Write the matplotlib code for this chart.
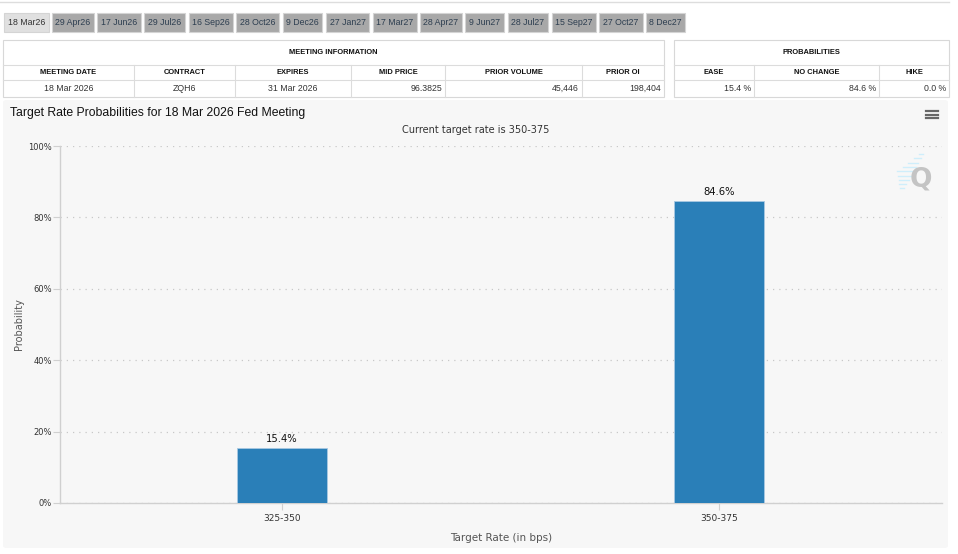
import matplotlib
matplotlib.use("Agg")
import matplotlib.pyplot as plt
from matplotlib.patches import Rectangle, FancyBboxPatch
from matplotlib.lines import Line2D

# ---------------- data ----------------
tabs = ["18 Mar26", "29 Apr26", "17 Jun26", "29 Jul26", "16 Sep26", "28 Oct26", "9 Dec26",
        "27 Jan27", "17 Mar27", "28 Apr27", "9 Jun27", "28 Jul27", "15 Sep27", "27 Oct27", "8 Dec27"]
meeting_cols = ["MEETING DATE", "CONTRACT", "EXPIRES", "MID PRICE", "PRIOR VOLUME", "PRIOR OI"]
meeting_vals = ["18 Mar 2026", "ZQH6", "31 Mar 2026", "96.3825", "45,446", "198,404"]
prob_cols = ["EASE", "NO CHANGE", "HIKE"]
prob_vals = ["15.4 %", "84.6 %", "0.0 %"]
categories = ["325-350", "350-375"]
probs = [15.4, 84.6]
yticks = [0, 20, 40, 60, 80, 100]
title = "Target Rate Probabilities for 18 Mar 2026 Fed Meeting"
subtitle = "Current target rate is 350-375"

# ---------------- layout helpers ----------------
W, H = 958, 554
fig = plt.figure(figsize=(W / 100, H / 100), dpi=100)
fig.patch.set_facecolor("white")

def fx(px):
    return px / W

def fy(py):
    return 1 - py / H

def rect(x0, y0, x1, y1, fc, ec="none", lw=0.8, z=1):
    fig.patches.append(Rectangle((fx(x0), fy(y1)), fx(x1) - fx(x0), fy(y0) - fy(y1),
                                 transform=fig.transFigure, facecolor=fc, edgecolor=ec,
                                 linewidth=lw, zorder=z))

def hline(x0, x1, y, c="#dcdcdc", lw=0.8, z=2):
    fig.lines.append(Line2D([fx(x0), fx(x1)], [fy(y), fy(y)], transform=fig.transFigure,
                            color=c, linewidth=lw, zorder=z))

def vline(x, y0, y1, c="#dcdcdc", lw=0.8, z=2):
    fig.lines.append(Line2D([fx(x), fx(x)], [fy(y0), fy(y1)], transform=fig.transFigure,
                            color=c, linewidth=lw, zorder=z))

def txt(x, y, s, size=6.5, ha="center", color="#222222", weight="normal", family="Liberation Sans", **kw):
    fig.text(fx(x), fy(y), s, ha=ha, va="center", fontsize=size, color=color,
             fontweight=weight, family=family, zorder=4, **kw)

# top rule
hline(0, 949, 2, c="#dddddd", lw=1.0)

# ---------------- tabs ----------------
tab_edges = [(4, 49), (52, 94), (97, 141), (144, 185), (189, 233), (236, 279), (283, 322),
             (326, 369), (373, 417), (420, 462), (465, 504), (508, 548), (552, 596),
             (599, 643), (646, 685)]
for i, (name, (a, b)) in enumerate(zip(tabs, tab_edges)):
    fc = "#e0e0e0" if i == 0 else "#a8a8a8"
    rect(a, 13, b, 32, fc, ec="#d4d4d4", lw=0.8)
    txt((a + b) / 2, 22.5, name, size=6.3, color="#2d3e50" if i else "#333333")

# ---------------- tables ----------------
def table(x0, x1, seps, head, cols, vals, aligns):
    rect(x0, 40, x1, 97, "white", ec="#d8d8d8", lw=0.8)
    hline(x0, x1, 65)
    hline(x0, x1, 80)
    edges = [x0] + seps + [x1]
    for s in seps:
        vline(s, 65, 97)
    txt((x0 + x1) / 2, 52.5, head, size=5.4, weight="bold", color="#111111")
    for j, (c, v) in enumerate(zip(cols, vals)):
        a, b = edges[j], edges[j + 1]
        txt((a + b) / 2, 72.5, c, size=5.4, weight="bold", color="#111111")
        if aligns[j] == "center":
            txt((a + b) / 2, 88.5, v, size=6.3, color="#333333")
        else:
            txt(b - 3, 88.5, v, size=6.3, ha="right", color="#333333")

table(3, 664, [134, 235, 351, 445, 582], "MEETING INFORMATION", meeting_cols, meeting_vals,
      ["center", "center", "center", "right", "right", "right"])
table(674, 949, [754, 879], "PROBABILITIES", prob_cols, prob_vals, ["right", "right", "right"])

# ---------------- chart panel ----------------
fig.patches.append(FancyBboxPatch((fx(3), fy(548)), fx(948) - fx(3), fy(100) - fy(548),
                                  boxstyle="round,pad=0,rounding_size=0.004",
                                  transform=fig.transFigure, facecolor="#f7f7f7",
                                  edgecolor="none", zorder=0))
txt(10, 113, title, size=8.8, ha="left", color="#111111", family="Liberation Sans")
txt(476, 130, subtitle, size=7, color="#333333", family="DejaVu Sans")

# hamburger menu
for yy in (111, 114.5, 118):
    hline(926, 938, yy, c="#666666", lw=1.6, z=3)

# watermark Q
txt(921, 180, "Q", size=19, weight="bold", color="#c4c4c4", family="DejaVu Sans")
for k in range(9):
    y = 154 + k * 4.3
    x_right = 923 - k * 2.4
    hline(x_right - (4 + 6 * min(k, 8 - k) / 2), x_right, y, c="#cfeefb", lw=1.0, z=3)

ax = fig.add_axes([fx(60), fy(503), fx(942) - fx(60), fy(146) - fy(503)])
ax.set_zorder(5)
ax.set_facecolor("none")
x = list(range(len(categories)))
bars = ax.bar(x, probs, width=0.206, color="#2a7fb8", edgecolor="#a9c9e2", linewidth=0.6, zorder=3)
for xi, p in zip(x, probs):
    ax.text(xi, p + 1.2, f"{p:.1f}%", ha="center", va="bottom", fontsize=7.2, color="#111111",
            family="DejaVu Sans")
ax.set_xlim(-0.508, len(categories) - 0.49)
ax.set_ylim(0, 100)
ax.set_yticks(yticks)
ax.set_yticklabels([f"{t}%" for t in yticks], fontsize=6, color="#333333", family="DejaVu Sans")
ax.set_xticks(x)
ax.set_xticklabels(categories, fontsize=6.5, color="#333333", family="DejaVu Sans")
ax.yaxis.grid(True, linestyle=(0, (1, 4)), color="#c8c8c8", linewidth=0.9, zorder=0)
ax.set_axisbelow(True)
for s in ("top", "right"):
    ax.spines[s].set_visible(False)
ax.spines["left"].set_color("#d0d0d0")
ax.spines["bottom"].set_color("#d0d0d0")
ax.spines["left"].set_linewidth(1.0)
ax.spines["bottom"].set_linewidth(1.0)
ax.tick_params(axis="y", length=5, color="#d0d0d0", pad=1)
ax.tick_params(axis="x", length=5, color="#d0d0d0", pad=3)
ax.set_ylabel("Probability", fontsize=7, color="#555555", family="DejaVu Sans", labelpad=3)
ax.set_xlabel("Target Rate (in bps)", fontsize=7.5, color="#555555", family="DejaVu Sans", labelpad=7)

fig.savefig("out.png", dpi=100, facecolor="white")
